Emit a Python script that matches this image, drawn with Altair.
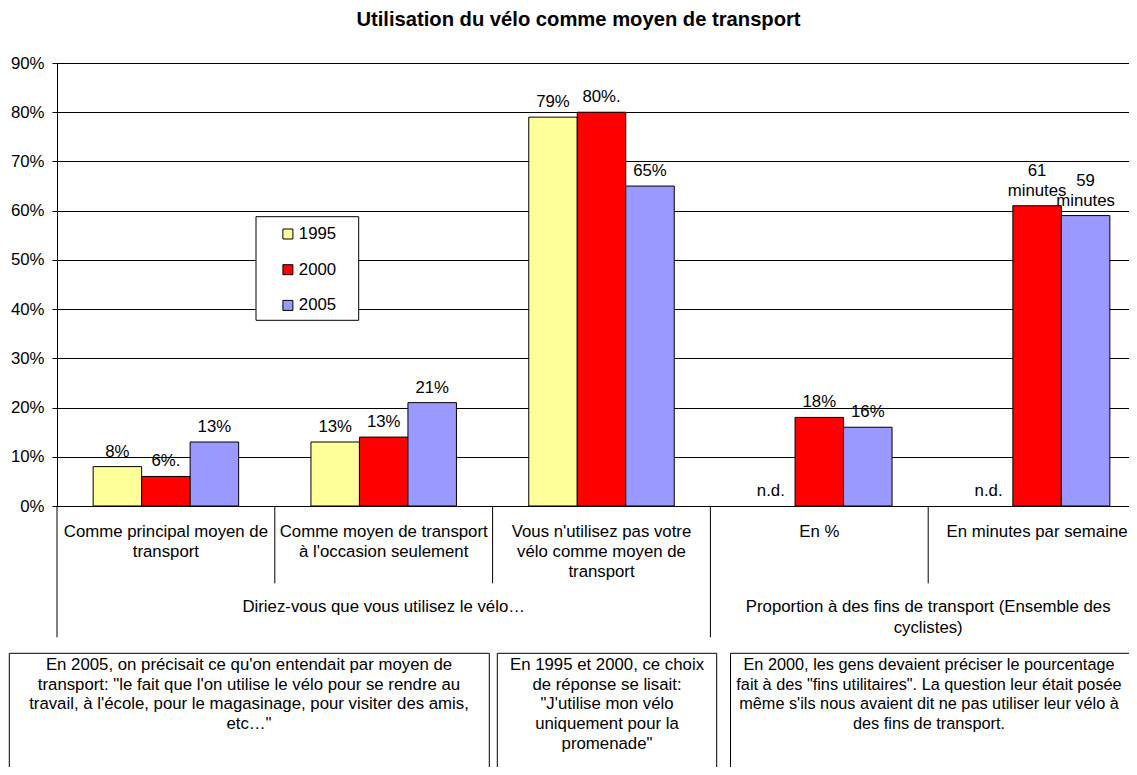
import altair as alt
import pandas as pd

# ---------------- data ----------------
title_text = "Utilisation du vélo comme moyen de transport"
years = ["1995", "2000", "2005"]
year_colors = ["#FFFF99", "#FF0000", "#9999FF"]
categories = [
    "Comme principal moyen de\ntransport",
    "Comme moyen de transport\nà l'occasion seulement",
    "Vous n'utilisez pas votre\nvélo comme moyen de\ntransport",
    "En %",
    "En minutes par semaine",
]
groups = [
    "Diriez-vous que vous utilisez le vélo…",
    "Proportion à des fins de transport (Ensemble des\ncyclistes)",
]
group_first = [0, 3]
group_last = [3, 5]
values_1995 = [8, 13, 79, None, None]
values_2000 = [6, 14, 80, 18, 61]
values_2005 = [13, 21, 65, 16, 59]
labels_1995 = ["8%", "13%", "79%", "n.d.", "n.d."]
labels_2000 = ["6%.", "13%", "80%.", "18%", "61\nminutes"]
labels_2005 = ["13%", "21%", "65%", "16%", "59\nminutes"]
y_ticks = [0, 10, 20, 30, 40, 50, 60, 70, 80, 90]
notes = [
    "En 2005, on précisait ce qu'on entendait par moyen de\n"
    "transport: \"le fait que l'on utilise le vélo pour se rendre au\n"
    "travail, à l'école, pour le magasinage, pour visiter des amis,\n"
    "etc…\"",
    "En 1995 et 2000, ce choix\nde réponse se lisait:\n\"J'utilise mon vélo\nuniquement pour la\npromenade\"",
    "En 2000, les gens devaient préciser le pourcentage\n"
    "fait à des \"fins utilitaires\". La question leur était posée\n"
    "même s'ils nous avaient dit ne pas utiliser leur vélo à\n"
    "des fins de transport.",
]

# ---------------- layout ----------------
W, H = 1072, 443
CAT_PX = 217.8
XMAX = W / CAT_PX
BAR = 48.5 / CAT_PX
FONT = "Liberation Sans"
FS = 16.8
LINE = 20
note_left = [-47.7, 440.3, 673.5]
note_right = [432.3, 659.7, 1110]
note_center = [192, 550, 872]
note_size = [16.8, 16.8, 16.3]

values = [values_1995, values_2000, values_2005]
labels = [labels_1995, labels_2000, labels_2005]

bar_rows, lab_rows = [], []
for i in range(len(categories)):
    for j, yr in enumerate(years):
        v = values[j][i]
        x0 = i + 0.5 + (j - 1.5) * BAR
        if v is not None:
            bar_rows.append({"x": x0, "x2": x0 + BAR, "value": v, "year": yr})
        lines = labels[j][i].split("\n")
        for k, line in enumerate(reversed(lines)):
            lab_rows.append({"cx": x0 + BAR / 2, "ly": v if v is not None else 0,
                             "label": line, "row": k})
bars_df = pd.DataFrame(bar_rows)
labs_df = pd.DataFrame(lab_rows)
cats_df = pd.DataFrame({"cx": [i + 0.5 for i in range(len(categories))], "label": categories})
groups_df = pd.DataFrame({"cx": [(a + b) / 2 for a, b in zip(group_first, group_last)], "label": groups})
short_div = pd.DataFrame({"x": [1, 2, 4]})
long_div = pd.DataFrame({"x": [0, 3]})
notes_df = pd.DataFrame({"x": note_left, "x2": note_right, "cx": note_center,
                         "fs": note_size, "text": notes})
one = pd.DataFrame({"k": [0]})

xs = alt.Scale(domain=[0, XMAX], nice=False, zero=False)
ys = alt.Scale(domain=[0, 90], nice=False, zero=False)
yaxis = alt.Axis(
    values=y_ticks, labelExpr="datum.value + '%'", grid=True, gridColor="#000",
    gridWidth=1, domain=True, domainColor="#000", ticks=True, tickColor="#000", tickSize=5,
    labelPadding=8, labelFont=FONT, labelFontSize=FS, labelColor="#000", title=None)

short_rules = alt.Chart(short_div).mark_rule(color="#000", strokeWidth=1).encode(
    x=alt.X("x:Q", scale=xs, axis=None), y=alt.value(H), y2=alt.value(520.3))
long_rules = alt.Chart(long_div).mark_rule(color="#000", strokeWidth=1).encode(
    x=alt.X("x:Q", scale=xs, axis=None), y=alt.value(H), y2=alt.value(574.3))

bars = alt.Chart(bars_df).mark_bar(stroke="#000", strokeWidth=1).encode(
    x=alt.X("x:Q", scale=xs, axis=None),
    x2="x2:Q",
    y=alt.Y("value:Q", scale=ys, axis=yaxis),
    y2=alt.datum(0),
    color=alt.Color("year:N", scale=alt.Scale(domain=years, range=year_colors),
                    legend=alt.Legend(orient="none", legendX=222.5, legendY=162.6, title=None,
                                      direction="vertical", symbolType="square", symbolSize=100,
                                      symbolStrokeColor="#000", symbolStrokeWidth=1,
                                      symbolOpacity=1, labelFont=FONT, labelFontSize=FS,
                                      labelColor="#000", labelOffset=2.5, rowPadding=17.7,
                                      padding=0)),
)


def label_layer(k):
    return alt.Chart(labs_df).transform_filter(alt.datum.row == k).mark_text(
        font=FONT, fontSize=FS, color="#000", baseline="alphabetic", dy=-10 - k * LINE,
        align="center").encode(
        x=alt.X("cx:Q", scale=xs, axis=None),
        y=alt.Y("ly:Q", scale=ys, axis=yaxis),
        text="label:N")


cat_labels = alt.Chart(cats_df).mark_text(
    font=FONT, fontSize=FS, color="#000", baseline="alphabetic",
    lineBreak="\n", lineHeight=LINE, align="center").encode(
    x=alt.X("cx:Q", scale=xs, axis=None), y=alt.value(474.3), text="label:N")

group_labels = alt.Chart(groups_df).mark_text(
    font=FONT, fontSize=FS, color="#000", baseline="alphabetic",
    lineBreak="\n", lineHeight=20.5, align="center").encode(
    x=alt.X("cx:Q", scale=xs, axis=None), y=alt.value(549), text="label:N")

legend_box = alt.Chart(one).mark_rect(fill="#fff", stroke="#000", strokeWidth=1).encode(
    x=alt.value(199), x2=alt.value(301.7), y=alt.value(153.7), y2=alt.value(257.3))

note_boxes = alt.Chart(notes_df).mark_rect(fill="#fff", stroke="#000", strokeWidth=1).encode(
    x=alt.X("x:Q", scale=None), x2="x2:Q", y=alt.value(590.3), y2=alt.value(740))

note_texts = alt.Chart(notes_df).mark_text(
    font=FONT, color="#000", baseline="alphabetic",
    lineBreak="\n", lineHeight=19.7, align="center").encode(
    x=alt.X("cx:Q", scale=None), y=alt.value(607), text="text:N",
    size=alt.Size("fs:Q", scale=None, legend=None))

title = alt.Chart(one).mark_text(
    font=FONT, fontSize=20.2, fontWeight="bold", color="#000", baseline="alphabetic",
    align="center").encode(x=alt.value(521.5), y=alt.value(-37.3), text=alt.value(title_text))

chart = alt.layer(
    short_rules, long_rules, bars, label_layer(0), label_layer(1), cat_labels, group_labels,
    legend_box, note_boxes, note_texts, title,
).properties(
    width=W, height=H,
    padding={"left": 49, "top": 55, "right": 0, "bottom": 261},
    autosize=alt.AutoSizeParams(type="none"),
    background="#ffffff",
).configure_view(stroke=None)

chart.save("out.html", embed_options={"renderer": "svg", "actions": False})
